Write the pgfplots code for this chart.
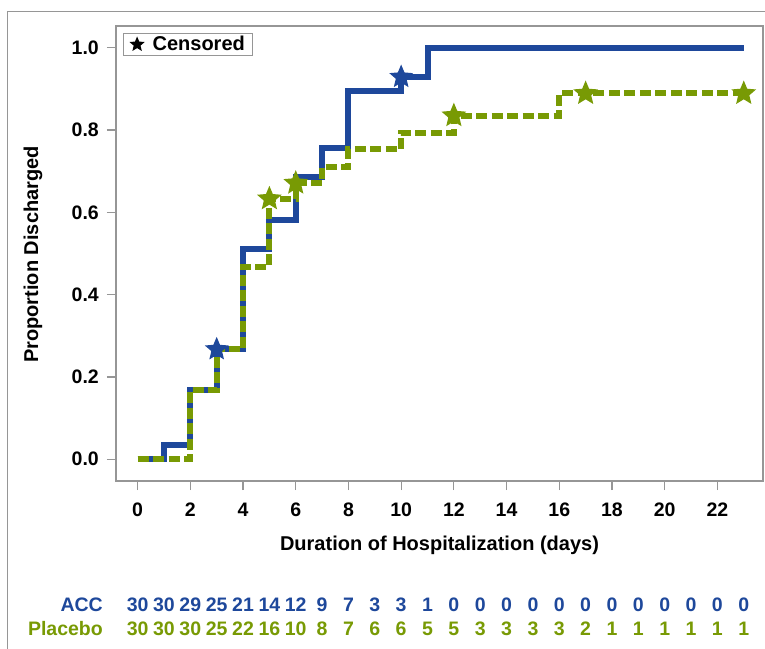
\documentclass[border=0pt]{standalone}
\usepackage{fontspec}
\setmainfont{Liberation Sans}
\usepackage{pgfplots}
\usepackage{pgfplotstable}
\pgfplotsset{compat=1.18}
\definecolor{accblue}{RGB}{30,72,155}
\definecolor{plgreen}{RGB}{120,154,4}
\definecolor{axgray}{RGB}{150,150,150}
\pgfdeclareplotmark{fstar}{%
  \pgfpathmoveto{\pgfpointpolar{90}{\pgfplotmarksize}}%
  \pgfpathlineto{\pgfpointpolar{126}{0.45\pgfplotmarksize}}%
  \pgfpathlineto{\pgfpointpolar{162}{\pgfplotmarksize}}%
  \pgfpathlineto{\pgfpointpolar{198}{0.45\pgfplotmarksize}}%
  \pgfpathlineto{\pgfpointpolar{234}{\pgfplotmarksize}}%
  \pgfpathlineto{\pgfpointpolar{270}{0.45\pgfplotmarksize}}%
  \pgfpathlineto{\pgfpointpolar{306}{\pgfplotmarksize}}%
  \pgfpathlineto{\pgfpointpolar{342}{0.45\pgfplotmarksize}}%
  \pgfpathlineto{\pgfpointpolar{18}{\pgfplotmarksize}}%
  \pgfpathlineto{\pgfpointpolar{54}{0.45\pgfplotmarksize}}%
  \pgfpathclose\pgfusepathqfill}
\pgfplotstableread{
x y n
0 -0.354 30
1 -0.354 30
2 -0.354 29
3 -0.354 25
4 -0.354 21
5 -0.354 14
6 -0.354 12
7 -0.354 9
8 -0.354 7
9 -0.354 3
10 -0.354 3
11 -0.354 1
12 -0.354 0
13 -0.354 0
14 -0.354 0
15 -0.354 0
16 -0.354 0
17 -0.354 0
18 -0.354 0
19 -0.354 0
20 -0.354 0
21 -0.354 0
22 -0.354 0
23 -0.354 0
}\accrisk
\pgfplotstableread{
x y n
0 -0.413 30
1 -0.413 30
2 -0.413 30
3 -0.413 25
4 -0.413 22
5 -0.413 16
6 -0.413 10
7 -0.413 8
8 -0.413 7
9 -0.413 6
10 -0.413 6
11 -0.413 5
12 -0.413 5
13 -0.413 3
14 -0.413 3
15 -0.413 3
16 -0.413 3
17 -0.413 2
18 -0.413 1
19 -0.413 1
20 -0.413 1
21 -0.413 1
22 -0.413 1
23 -0.413 1
}\plrisk
\newcommand{\tfont}{\fontsize{19.5pt}{22pt}\selectfont\bfseries}
\newcommand{\lfont}{\fontsize{20pt}{23pt}\selectfont\bfseries}
\begin{document}
\begin{tikzpicture}
\useasboundingbox (-116pt,-167pt) rectangle (649pt,481pt);
\draw[color=axgray, line width=1pt] (-108pt,-200pt) -- (-108pt,469pt) -- (700pt,469pt);
\begin{axis}[
  at={(0pt,0pt)}, anchor=south west,
  scale only axis, width=647pt, height=455pt,
  xmin=-0.82, xmax=23.73, ymin=-0.053, ymax=1.053,
  clip=false,
  axis line style={color=axgray, line width=1.2pt},
  xtick={0,2,...,22}, ytick={0,0.2,0.4,0.6,0.8,1.0},
  tick pos=left, tick align=outside, major tick length=9pt,
  tick style={color=axgray, line width=1.2pt},
  /pgf/number format/assume math mode=true,
  ticklabel style={font=\tfont, inner sep=0pt},
  xticklabel style={anchor=north, yshift=-13pt},
  yticklabel style={anchor=east, xshift=-8pt, /pgf/number format/fixed, /pgf/number format/fixed zerofill, /pgf/number format/precision=1},
  legend style={at={(rel axis cs:0,1)}, xshift=7pt, yshift=-7pt, anchor=north west,
    draw=axgray, line width=1pt, font=\lfont, inner xsep=6pt, inner ysep=1pt},
  legend cell align=left,
]
\addplot[forget plot, const plot, accblue, line width=6pt, line join=miter] coordinates {
(0,0) (1,0.0333) (2,0.167) (3,0.267) (4,0.511) (5,0.581) (6,0.686) (7,0.756) (8,0.895) (10,0.929) (11,1.0) (23,1.0)};
\addplot[forget plot, const plot, plgreen, line width=6pt, dash pattern=on 11pt off 4.5pt, line join=miter] coordinates {
(0,0) (2,0.167) (3,0.267) (4,0.467) (5,0.633) (6,0.671) (7,0.711) (8,0.753) (10,0.794) (12,0.835) (16,0.889) (23,0.889)};
\addplot[forget plot, only marks, mark=fstar, mark size=12.5pt, color=accblue] coordinates {(3,0.267) (10,0.929)};
\addplot[forget plot, only marks, mark=fstar, mark size=13pt, color=plgreen] coordinates {(5,0.633) (6,0.671) (12,0.835) (17,0.889) (23,0.889)};
\addplot[forget plot, draw=none, mark=none, nodes near coords, point meta=explicit symbolic,
  nodes near coords style={anchor=center, yshift=0pt, inner sep=0pt, text=accblue, font=\tfont}]
  table[x=x, y=y, meta=n] {\accrisk};
\addplot[forget plot, draw=none, mark=none, nodes near coords, point meta=explicit symbolic,
  nodes near coords style={anchor=center, yshift=0pt, inner sep=0pt, text=plgreen, font=\tfont}]
  table[x=x, y=y, meta=n] {\plrisk};
\addlegendimage{legend image code/.code={%
  \path[draw=none, fill=none] (0pt,-4pt) rectangle (20pt,4pt);
  \path[draw=none, fill=black] plot[only marks, mark=fstar, mark size=8pt, mark options={draw=none, fill=black}] coordinates {(6.5pt,0pt)};}}
\addlegendentry{Censored}
\end{axis}
\node[rotate=90, font=\lfont] at (-83pt,226.5pt) {Proportion Discharged};
\node[font=\lfont] at (323.5pt,-64pt) {Duration of Hospitalization (days)};
\node[anchor=east, inner sep=0pt, text=accblue, font=\tfont] at (-13pt,-124pt) {ACC};
\node[anchor=east, inner sep=0pt, text=plgreen, font=\tfont] at (-13pt,-148pt) {Placebo};
\end{tikzpicture}
\end{document}
